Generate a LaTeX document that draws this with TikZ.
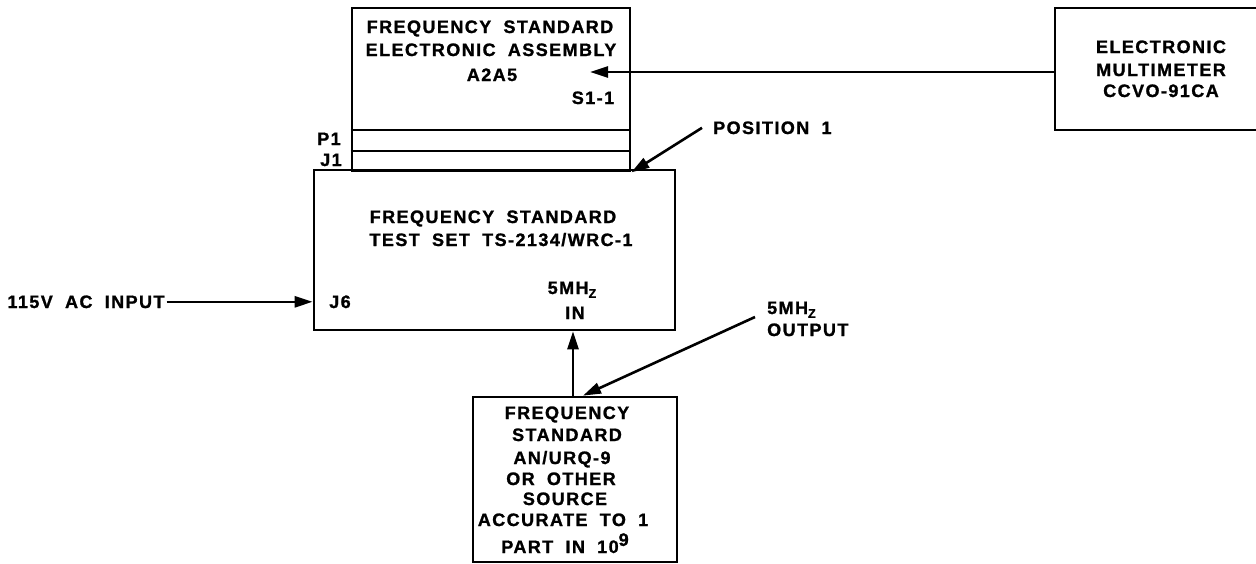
\documentclass[tikz,border=0pt]{standalone}
\usepackage{fontspec}
\setmainfont{Liberation Sans}[LetterSpace=8,WordSpace=1.9,BoldFeatures={FakeBold=1.2}]
\usetikzlibrary{arrows.meta}
\tikzset{
 box/.style={draw, line width=2.7pt, rectangle, inner sep=0pt},
 lbl/.style={font=\bfseries\fontsize{18}{22}\selectfont, inner sep=0pt, anchor=base},
 lblw/.style={lbl, anchor=base west},
 arr/.style={line width=2.6pt, -{Triangle[length=18pt,width=11pt]}},
 sep/.style={line width=2.4pt}
}
\newcommand{\mhzsub}{5MH\raisebox{-0.4ex}{\fontsize{12.5}{12.5}\selectfont Z}}
\begin{document}
\begin{tikzpicture}[x=1pt,y=-1pt]
\useasboundingbox (0,0) rectangle (1256,563);
\fill[white] (0,0) rectangle (1256,563);
\begin{scope}
\clip (0,0) rectangle (1256,563);
% boxes
\node[box, minimum width=278pt, minimum height=163pt] (asm) at (491,89.5) {};
\node[box, minimum width=361pt, minimum height=160pt] (main) at (494.5,250) {};
\node[box, minimum width=220pt, minimum height=122pt] (mm) at (1165,69) {};
\node[box, minimum width=204pt, minimum height=165pt] (src) at (575,479.5) {};
% P1 / J1 separators
\coordinate (ya) at (0,130);
\coordinate (yb) at (0,151);
\draw[sep] (asm.west |- ya) -- (asm.east |- ya);
\draw[sep] (asm.west |- yb) -- (asm.east |- yb);
% assembly texts
\node[lbl] (a1) at (490,33) {FREQUENCY STANDARD};
\node[lbl] (a2) at (491,56) {ELECTRONIC ASSEMBLY};
\node[lbl] (a3) at (492,81) {A2A5};
\node[lbl] (s11) at (593,104) {S1-1};
\node[lbl] (p1) at (329,145) {P1};
\node[lbl] (j1) at (331,166) {J1};
% main box texts
\node[lbl] (m1) at (493,223) {FREQUENCY STANDARD};
\node[lbl] (m2) at (501,246) {TEST SET TS-2134/WRC-1};
\node[lbl] (j6) at (340,308) {J6};
\node[lbl] (m3) at (572,294) {\mhzsub};
\node[lbl] (m4) at (575,319) {IN};
% multimeter texts
\node[lbl] (e1) at (1161,53) {ELECTRONIC};
\node[lbl] (e2) at (1161,76) {MULTIMETER};
\node[lbl] (e3) at (1161,97) {CCVO-91CA};
% source texts
\node[lbl] (f1) at (567,419) {FREQUENCY};
\node[lbl] (f2) at (567,441) {STANDARD};
\node[lbl] (f3) at (562,464) {AN/URQ-9};
\node[lbl] (f4) at (561,485) {OR OTHER};
\node[lbl] (f5) at (565,505) {SOURCE};
\node[lbl] (f6) at (563,526) {ACCURATE TO 1};
\node[lbl] (f7) at (565,553) {PART IN 10\raisebox{0.75ex}{9}};
% free labels
\node[lbl, inner sep=2pt] (acin) at (86,308) {115V AC INPUT};
\node[lblw] (pos) at (713,134) {POSITION 1};
\node[lblw] (outa) at (767,314) {\mhzsub};
\node[lblw] (outb) at (767,336) {OUTPUT};
% connectors
\coordinate (ta) at (590,72);
\draw[arr] (mm.west |- ta) -- (ta);
\draw[arr] ([xshift=-11pt]pos.west) -- (asm.south east);
\draw[arr] (acin.east) -- (acin.east -| main.west);
\coordinate (vx) at (573,0);
\draw[arr] (vx |- src.north) -- (vx |- main.south);
\coordinate (outs) at (755,317);
\coordinate (bx) at (583,0);
\draw[arr] (outs) -- (bx |- src.north);
\end{scope}
\end{tikzpicture}
\end{document}
